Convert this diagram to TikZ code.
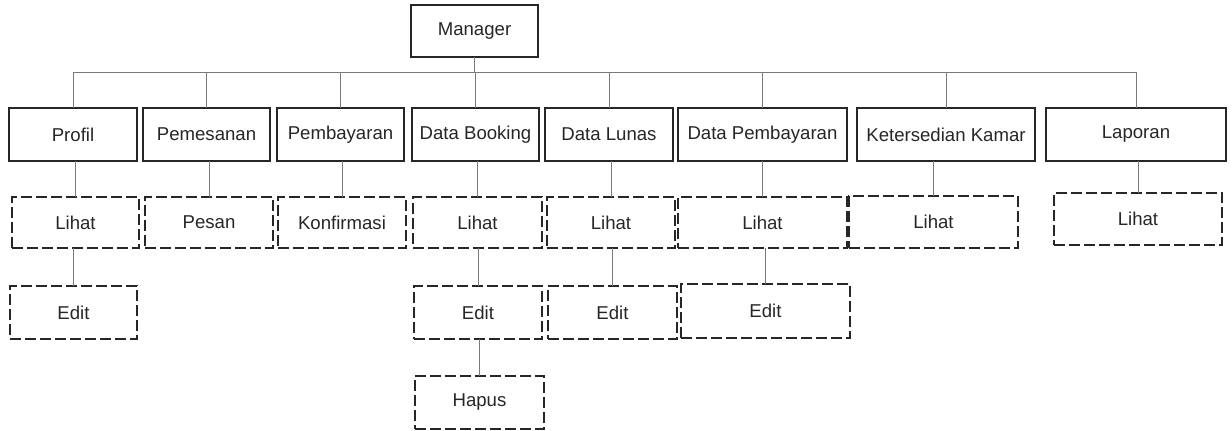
\documentclass[tikz,border=0pt]{standalone}
\usepackage{fontspec}
\setmainfont{Liberation Sans}
\usepackage{xcolor}
\usepackage{tikz}
\usetikzlibrary{calc}

\definecolor{boxline}{HTML}{262626}
\definecolor{linkline}{HTML}{7A7A7A}
\definecolor{textcol}{HTML}{262626}

\begin{document}
\begin{tikzpicture}[x=0.5pt,y=-0.5pt,
		menu/.style={draw=boxline, line width=1.25pt, inner sep=0pt, outer sep=0pt,
			minimum height=26.5pt, text=textcol, font=\fontsize{9.3pt}{11pt}\selectfont},
		submenu/.style={menu, dash pattern=on 5.5pt off 2pt, minimum height=25.5pt},
		link/.style={draw=linkline, line width=0.5pt}]
			\useasboundingbox (0,0) rectangle (1232,430);

			\node[menu, minimum width=63.5pt, minimum height=26pt] (mgr) at (474.5,31) {Manager};

			\node[menu, minimum width=64pt] (profil) at (73,134.5) {Profil};
			\node[menu, minimum width=63.5pt] (pemesanan) at (206.5,134.5) {Pemesanan};
			\node[menu, minimum width=63.5pt] (pembayaran) at (340.5,134.5) {Pembayaran};
			\node[menu, minimum width=63.5pt] (booking) at (475.5,134.5) {Data Booking};
			\node[menu, minimum width=64pt] (lunas) at (609,134.5) {Data Lunas};
			\node[menu, minimum width=84.5pt] (databayar) at (762.5,134.5) {Data Pembayaran};
			\node[menu, minimum width=89pt] (kamar) at (946,134.5) {Ketersedian Kamar};
			\node[menu, minimum width=90pt] (laporan) at (1136,134.5) {Laporan};

			\node[submenu, minimum width=63.5pt] (profilLihat) at (75.5,222.5) {Lihat};
			\node[submenu, minimum width=64pt] (pesan) at (209,222.5) {Pesan};
			\node[submenu, minimum width=64pt] (konfirmasi) at (342,222.5) {Konfirmasi};
			\node[submenu, minimum width=64.5pt] (bookingLihat) at (477.5,222.5) {Lihat};
			\node[submenu, minimum width=64pt] (lunasLihat) at (611,222.5) {Lihat};
			\node[submenu, minimum width=84.5pt] (databayarLihat) at (762.5,222.5) {Lihat};
			\node[submenu, minimum width=84.5pt, minimum height=26pt] (kamarLihat) at (933.5,222) {Lihat};
			\node[submenu, minimum width=84pt, minimum height=26pt] (laporanLihat) at (1138,219) {Lihat};

			\node[submenu, minimum width=63.5pt, minimum height=26.5pt] (profilEdit) at (73.5,312.5) {Edit};
			\node[submenu, minimum width=64pt, minimum height=26.5pt] (bookingEdit) at (478,312.5) {Edit};
			\node[submenu, minimum width=64.5pt, minimum height=26.5pt] (lunasEdit) at (612.5,312.5) {Edit};
			\node[submenu, minimum width=84.5pt, minimum height=27pt] (databayarEdit) at (765.5,311) {Edit};
			\node[submenu, minimum width=64.5pt, minimum height=26.5pt] (hapus) at (479.5,402.5) {Hapus};

			\coordinate (bus) at (0,72);
			\draw[link] (profil.north |- bus) -- (laporan.north |- bus);
			\draw[link] (mgr.south) -- (mgr.south |- bus);
			\foreach \m in {profil,pemesanan,pembayaran,booking,lunas,databayar,kamar,laporan}
				\draw[link] (\m.north) -- (\m.north |- bus);

			\foreach \s/\p in {profilLihat/profil,pesan/pemesanan,konfirmasi/pembayaran,
				bookingLihat/booking,lunasLihat/lunas,databayarLihat/databayar,
				kamarLihat/kamar,laporanLihat/laporan,profilEdit/profilLihat,
				bookingEdit/bookingLihat,lunasEdit/lunasLihat,databayarEdit/databayarLihat,
				hapus/bookingEdit}
				\draw[link] (\s.north) -- (\s.north |- \p.south);
		\end{tikzpicture}
\end{document}
